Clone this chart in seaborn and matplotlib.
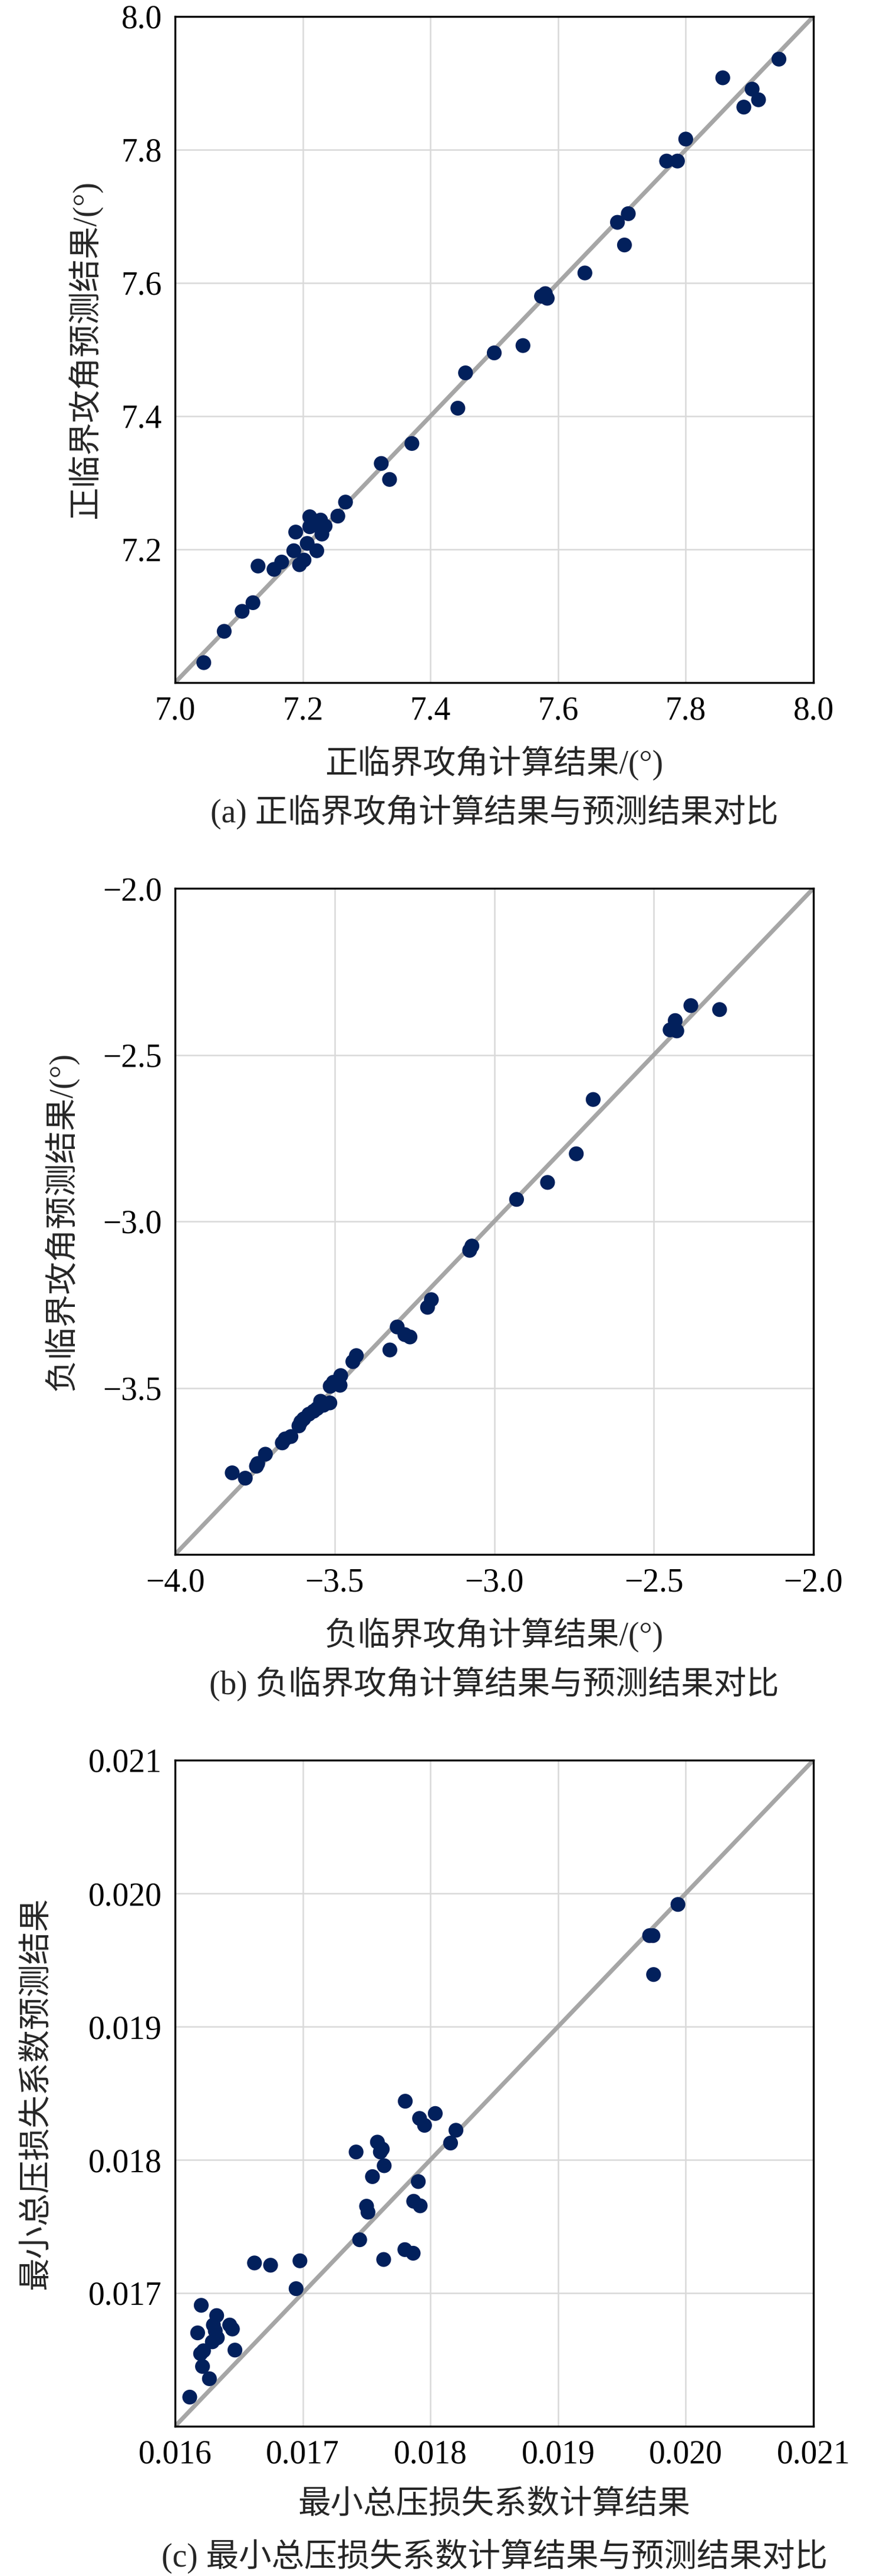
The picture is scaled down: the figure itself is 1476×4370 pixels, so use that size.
import numpy as np
import pandas as pd
import seaborn as sns
import matplotlib
matplotlib.use("Agg")
import matplotlib.pyplot as plt

# (a) positive stall incidence, deg
a_calc = [7.045, 7.077, 7.105, 7.122, 7.130, 7.155, 7.167, 7.186, 7.189, 7.195,
          7.202, 7.207, 7.211, 7.211, 7.222, 7.228, 7.230, 7.235, 7.225, 7.255,
          7.267, 7.323, 7.336, 7.371, 7.443, 7.455, 7.500, 7.545, 7.574, 7.580,
          7.583, 7.642, 7.693, 7.704, 7.710, 7.770, 7.787, 7.800, 7.858, 7.891,
          7.904, 7.914, 7.946]
a_pred = [7.030, 7.077, 7.107, 7.120, 7.175, 7.170, 7.181, 7.198, 7.226, 7.177,
          7.184, 7.209, 7.249, 7.234, 7.198, 7.244, 7.223, 7.235, 7.238, 7.250,
          7.271, 7.329, 7.305, 7.359, 7.412, 7.465, 7.495, 7.506, 7.580, 7.584,
          7.577, 7.615, 7.691, 7.657, 7.704, 7.783, 7.783, 7.816, 7.908, 7.864,
          7.891, 7.875, 7.936]

# (b) negative stall incidence, deg
b_calc = [-3.821, -3.780, -3.745, -3.741, -3.717, -3.664, -3.655, -3.637, -3.612, -3.606,
          -3.597, -3.581, -3.566, -3.555, -3.544, -3.535, -3.515, -3.514, -3.504, -3.483,
          -3.481, -3.443, -3.432, -3.327, -3.304, -3.280, -3.264, -3.209, -3.197, -3.077,
          -3.070, -2.930, -2.833, -2.743, -2.690, -2.449, -2.433, -2.428, -2.384, -2.294]
b_pred = [-3.755, -3.771, -3.735, -3.727, -3.699, -3.665, -3.653, -3.646, -3.614, -3.602,
          -3.593, -3.579, -3.570, -3.562, -3.540, -3.552, -3.545, -3.495, -3.483, -3.492,
          -3.463, -3.421, -3.403, -3.386, -3.317, -3.340, -3.347, -3.258, -3.235, -3.087,
          -3.074, -2.934, -2.883, -2.797, -2.634, -2.425, -2.397, -2.428, -2.352, -2.364]

# (c) minimum total pressure loss coefficient
c_calc = [0.016115, 0.016177, 0.016205, 0.016200, 0.016223, 0.016215, 0.016269, 0.016292, 0.016331, 0.016300,
          0.016326, 0.016428, 0.016449, 0.016469, 0.016315, 0.016622, 0.016748, 0.016948, 0.016978, 0.017418,
          0.017446, 0.017500, 0.017511, 0.017546, 0.017585, 0.017623, 0.017608, 0.017638, 0.017634, 0.017803,
          0.017800, 0.017865, 0.017869, 0.017920, 0.017905, 0.017915, 0.017954, 0.018038, 0.018158, 0.018200,
          0.019717, 0.019743, 0.019748, 0.019939]
c_pred = [0.016219, 0.016701, 0.016908, 0.016545, 0.016567, 0.016449, 0.016357, 0.016634, 0.016664, 0.016760,
          0.016831, 0.016760, 0.016730, 0.016572, 0.016716, 0.017226, 0.017209, 0.017033, 0.017242, 0.018059,
          0.017400, 0.017652, 0.017607, 0.017874, 0.018133, 0.018081, 0.018059, 0.017956, 0.017252, 0.018440,
          0.017326, 0.017299, 0.017689, 0.017655, 0.017837, 0.018311, 0.018259, 0.018348, 0.018126, 0.018222,
          0.019683, 0.019683, 0.019391, 0.019917]

a_ticks = [7.0, 7.2, 7.4, 7.6, 7.8, 8.0]
b_ticks = [-4.0, -3.5, -3.0, -2.5, -2.0]
c_ticks = [0.016, 0.017, 0.018, 0.019, 0.020, 0.021]

panels = [
    (a_calc, a_pred, a_ticks, "{:.1f}",
     "正临界攻角计算结果/(°)", "正临界攻角预测结果/(°)", "(a) 正临界攻角计算结果与预测结果对比"),
    (b_calc, b_pred, b_ticks, "{:.1f}",
     "负临界攻角计算结果/(°)", "负临界攻角预测结果/(°)", "(b) 负临界攻角计算结果与预测结果对比"),
    (c_calc, c_pred, c_ticks, "{:.3f}",
     "最小总压损失系数计算结果", "最小总压损失系数预测结果", "(c) 最小总压损失系数计算结果与预测结果对比"),
]

sns.set_style("white")
plt.rcParams['font.family'] = ['Liberation Serif', 'Noto Sans CJK SC']
plt.rcParams['axes.unicode_minus'] = True

W, H, DPI = 1476, 4370, 200
fig = plt.figure(figsize=(W / DPI, H / DPI), dpi=DPI)

ax_tops = [28, 1507, 2986]
ylab_x = [145, 104, 62]   # centre of the y label, px
ax_h = 1130
left, ax_w = 297, 1083

for (calc, pred, ticks, fmt, xl, yl, cap), top, yx in zip(panels, ax_tops, ylab_x):
    ax = fig.add_axes([left / W, 1 - (top + ax_h) / H, ax_w / W, ax_h / H])
    lo, hi = ticks[0], ticks[-1]
    ax.plot([lo, hi], [lo, hi], color="#a6a6a6", lw=2.6, zorder=2)
    df = pd.DataFrame({"calc": calc, "pred": pred})
    sns.scatterplot(data=df, x="calc", y="pred", ax=ax, color="#02205c",
                    s=82, edgecolor="none", linewidth=0, zorder=3)
    ax.set_xlim(lo, hi)
    ax.set_ylim(lo, hi)
    ax.set_xticks(ticks)
    ax.set_xticklabels([fmt.format(t).replace("-", "\u2212") for t in ticks])
    ax.set_yticks(ticks[1:])
    ax.set_yticklabels([fmt.format(t).replace("-", "\u2212") for t in ticks[1:]])
    ax.grid(True, color="#d9d9d9", lw=0.9, zorder=0)
    ax.set_axisbelow(True)
    for sp in ax.spines.values():
        sp.set_linewidth(1.2)
        sp.set_color("black")
    ax.tick_params(direction="in", length=5.4, width=1.2, labelsize=20, pad=8,
                   top=False, right=False, colors="black")
    ax.set_xlabel(xl, fontsize=20, labelpad=12)
    ax.set_ylabel(yl, fontsize=20, va="center")
    ax.yaxis.set_label_coords((yx - left) / ax_w, 0.5)
    ax.text(0.5, -220 / ax_h, cap, transform=ax.transAxes, ha="center", va="center",
            fontsize=20)

fig.savefig("out.png", dpi=DPI)
